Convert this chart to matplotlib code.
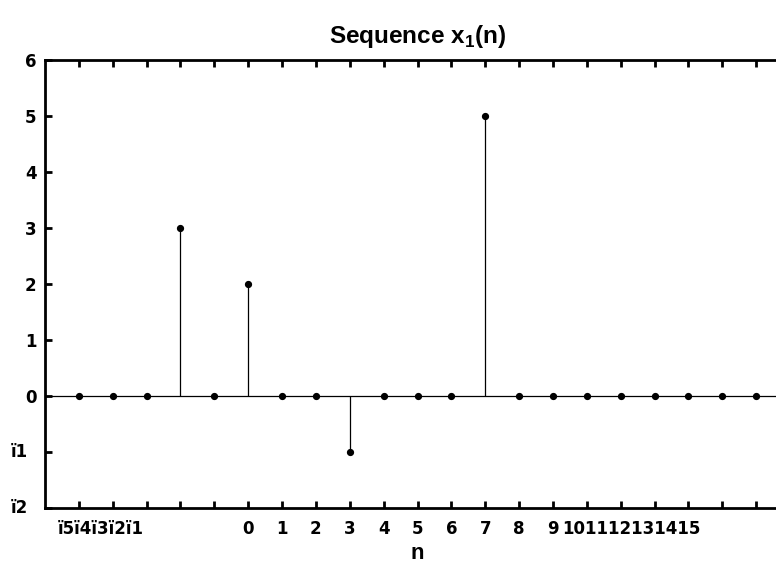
import matplotlib
matplotlib.use("Agg")
import matplotlib.pyplot as plt
import matplotlib.transforms as mtransforms

# data of the sequence
n = list(range(-5, 16))
x1 = [0, 0, 0, 3, 0, 2, 0, 0, -1, 0, 0, 0, 5, 0, 0, 0, 0, 0, 0, 0, 0]

# tick labels as they appear (minus sign came out as 'ï')
neg_labels = ['ï5', 'ï4', 'ï3', 'ï2', 'ï1']
mid_labels = ['0', '1', '2', '3', '4', '5', '6', '7', '8', '9']
high_labels = ['10', '11', '12', '13', '14', '15']
y_pos = [0, 1, 2, 3, 4, 5, 6]
y_pos_labels = ['0', '1', '2', '3', '4', '5', '6']
y_neg = [-2, -1]
y_neg_labels = ['ï2', 'ï1']

plt.rcParams['font.family'] = ['Liberation Sans', 'DejaVu Sans']
plt.rcParams['font.weight'] = 'bold'
plt.rcParams['mathtext.fontset'] = 'custom'
plt.rcParams['mathtext.bf'] = 'Liberation Sans:bold'
plt.rcParams['mathtext.rm'] = 'Liberation Sans:bold'

tick_font = dict(family='DejaVu Sans', fontsize=12, fontweight='bold')

fig = plt.figure(figsize=(7.76, 5.65), dpi=100)
ax = fig.add_axes([45 / 776, 57 / 565, 745 / 776, 448 / 565])

# stems
ax.vlines(n, 0, x1, color='black', linewidth=0.9)
ax.plot(n, x1, 'o', color='black', markersize=4.2)
ax.axhline(0, color='black', linewidth=0.9)

ax.set_xlim(-6, 16)
ax.set_ylim(-2, 6)

ax.set_xticks(n)
ax.set_xticklabels([''] * 5 + mid_labels + [''] * 6, **tick_font)
ax.set_yticks(y_neg + y_pos)
ax.set_yticklabels([''] * 2 + y_pos_labels, **tick_font)

ax.tick_params(direction='in', length=5, width=2, top=True, right=False)
ax.tick_params(axis='x', pad=9)
ax.tick_params(axis='y', pad=6)
for sp in ax.spines.values():
    sp.set_linewidth(2)

# crammed x labels, written one after another
xtrans = ax.get_xaxis_transform() + mtransforms.ScaledTranslation(0, -9 / 72, fig.dpi_scale_trans)
ax.text(-5.61, 0, ''.join(neg_labels), transform=xtrans, ha='left', va='top', **tick_font)
ax.text(9.27, 0, ''.join(high_labels), transform=xtrans, ha='left', va='top', **tick_font)

# negative y labels sit further left than the others
ytrans = ax.get_yaxis_transform() + mtransforms.ScaledTranslation(-17 / 100, 0, fig.dpi_scale_trans)
for v, lab in zip(y_neg, y_neg_labels):
    ax.text(0, v, lab, transform=ytrans, ha='right', va='center', **tick_font)

ax.set_title('Sequence x$_\\mathbf{1}$(n)', fontsize=17.5, fontweight='bold', pad=12)
ax.set_xlabel('n', fontsize=16, fontweight='bold', labelpad=3.5)

fig.savefig('out.png', dpi=100)
